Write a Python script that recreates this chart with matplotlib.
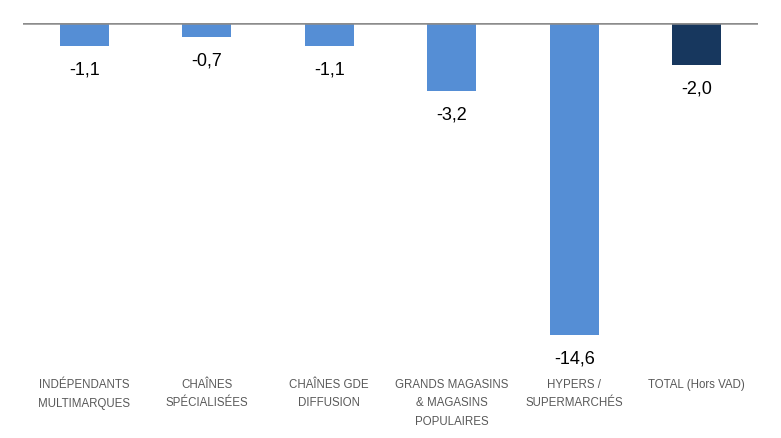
import numpy as np
import matplotlib.pyplot as plt

categories = ["INDÉPENDANTS\nMULTIMARQUES", "CHAÎNES\nSPÉCIALISÉES", "CHAÎNES GDE\nDIFFUSION",
              "GRANDS MAGASINS\n& MAGASINS\nPOPULAIRES", "HYPERS /\nSUPERMARCHÉS", "TOTAL (Hors VAD)"]
values = [-1.1, -0.7, -1.1, -3.2, -14.6, -2.0]
colors = ["#558ed5"] * 5 + ["#17375e"]

fig = plt.figure(figsize=(7.81, 4.38), dpi=100)
ax = fig.add_axes([23 / 781, 1 - 335 / 438, 735 / 781, 312.5 / 438])

x = np.arange(len(values))
ax.bar(x, values, width=0.4, color=colors, zorder=2)
ax.axhline(0, color="#8c8c8c", linewidth=1.8, zorder=3)

for xi, v in zip(x, values):
    ax.annotate(f"{v:.1f}".replace(".", ","), (xi, v), xytext=(0, -24), textcoords="offset pixels",
                ha="center", va="center", fontsize=13, family=["Liberation Sans", "DejaVu Sans"])

ax.set_xlim(-0.5, 5.5)
ax.set_ylim(-14.6, 0)
ax.set_xticks(x)
ax.set_xticklabels(categories, fontsize=8.3, color="#595959", linespacing=1.75,
                   family=["Liberation Sans Narrow", "Liberation Sans", "DejaVu Sans"])
ax.tick_params(axis="x", length=0, pad=31.5)
ax.set_yticks([])
for s in ax.spines.values():
    s.set_visible(False)

fig.savefig("out.png", dpi=100)
